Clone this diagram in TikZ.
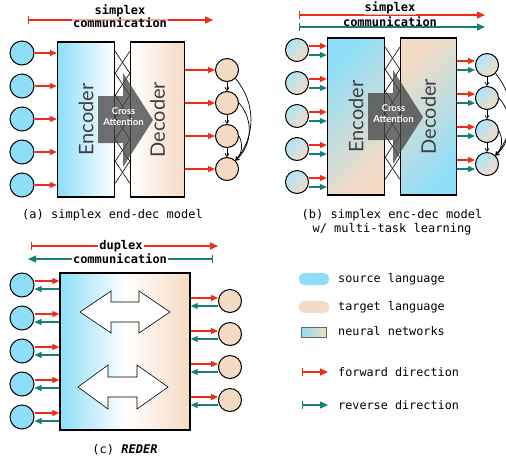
\documentclass[tikz,border=0pt]{standalone}
\usepackage{fontspec}
\setmainfont{DejaVu Sans Mono}
\newfontfamily\netfont{Lato}
\usetikzlibrary{arrows.meta,positioning}
\definecolor{srcblue}{RGB}{142,222,248}
\definecolor{tgtpeach}{RGB}{245,219,196}
\definecolor{fwdred}{RGB}{238,45,25}
\definecolor{revteal}{RGB}{22,128,116}
\tikzset{
  src/.style={circle, draw, line width=1pt, fill=srcblue, minimum size=24pt, inner sep=0pt},
  tgt/.style={circle, draw, line width=1pt, fill=tgtpeach, minimum size=23pt, inner sep=0pt},
  mixed/.style={circle, draw, line width=1pt, top color=srcblue!75!white, bottom color=tgtpeach, shading angle=45, minimum size=23pt, inner sep=0pt},
  net/.style={draw, line width=1.4pt, inner sep=0pt, minimum height=155pt},
  netlabel/.style={font=\netfont\fontsize{20}{20}\selectfont, text=black!75, rotate=90},
  attn/.style={fill=black!72, fill opacity=0.78},
  attnlabel/.style={font=\netfont\bfseries\fontsize{9.5}{11}\selectfont, text=white, align=center},
  xline/.style={line width=0.6pt},
  dep/.style={-{Straight Barb[length=3pt,width=4pt]}, line width=0.7pt},
  fwd/.style={-{Triangle[length=7pt,width=6pt]}, fwdred, line width=1.2pt},
  rev/.style={-{Triangle[length=7pt,width=6pt]}, revteal, line width=1.2pt},
  fwdbar/.style={{Bar[width=8pt]}-{Triangle[length=8pt,width=7pt]}, fwdred, line width=1.2pt},
  revbar/.style={{Bar[width=8pt]}-{Triangle[length=8pt,width=7pt]}, revteal, line width=1.2pt},
  title/.style={font=\bfseries\fontsize{12}{12}\selectfont, inner sep=1pt},
  caption/.style={font=\fontsize{12}{14}\selectfont, align=center},
  legend/.style={font=\fontsize{11.8}{13}\selectfont, anchor=west, inner sep=0pt},
  arrowbox/.style={draw, fill=white, line width=0.6pt}
}

\begin{document}
\begin{tikzpicture}[x=1pt,y=-1pt]
\useasboundingbox (0,0) rectangle (506,459);

% (a) simplex enc-dec
\coordinate (AL) at (28,20);
\coordinate (AR) at (213,20);
\draw[fwdbar] (AL) -- (AR);
\node[title] (AT1) at (120,11) {simplex};
\node[title, fill=white, fill opacity=0.6, text opacity=1] (AT2) at (120,23) {communication};

\node[src] (S1) at (22,53) {};
\node[src, below=8pt of S1] (S2) {};
\node[src, below=8pt of S2] (S3) {};
\node[src, below=8pt of S3] (S4) {};
\node[src, below=8pt of S4] (S5) {};

\node[net, minimum width=57pt, left color=srcblue, right color=white] (E) at (86,119.5) {};
\node[netlabel] (EL) at (E) {Encoder};
\node[net, minimum width=54pt, left color=white, right color=tgtpeach] (D) at (157.5,119.5) {};
\node[netlabel] (DL) at (D) {Decoder};

\foreach \i in {0,...,5} {
  \draw[xline] ([yshift=-(10+22*\i)]E.north east) -- ([yshift=-(32+22*\i)]D.north west);
  \draw[xline] ([yshift=-(32+22*\i)]E.north east) -- ([yshift=-(10+22*\i)]D.north west);
}
\fill[attn] (98,96) -- (123,96) -- (123,73) -- (153,120) -- (123,167) -- (123,143) -- (98,143) -- cycle;
\node[attnlabel] (CA) at (123.5,116.5) {Cross\\Attention};

\node[tgt] (T1) at (227,70) {};
\node[tgt, below=9pt of T1] (T2) {};
\node[tgt, below=9pt of T2] (T3) {};
\node[tgt, below=9pt of T3] (T4) {};

\foreach \i in {1,...,5} \draw[fwd] (S\i) -- (S\i -| E.west);
\foreach \i in {1,...,4} \draw[fwd] (T\i -| D.east) -- (T\i);

\draw[dep] (T1) -- (T2);
\draw[dep] (T2) -- (T3);
\draw[dep] (T3) -- (T4);
\draw[dep] (T1.south east) to[bend left=40] (T4.north east);
\draw[dep] (T2.east) to[bend left=45] (T4.north east);
\draw[dep] (T3.east) to[bend left=35] (T4.north east);

\node[caption] (AC) at (112.5,215) {(a) simplex end-dec model};

% (b) multi-task
\coordinate (BL1) at (299,15);
\coordinate (BR1) at (485,15);
\coordinate (BL2) at (299,27);
\coordinate (BR2) at (485,27);
\draw[fwdbar] (BL1) -- (BR1);
\draw[revbar] (BL2) -- (BR2);
\node[title, fill=white, fill opacity=0.6, text opacity=1] (BT1) at (390,7.5) {simplex};
\node[title] (BT2) at (390,21.5) {communication};

\node[mixed] (U1) at (297,50) {};
\node[mixed, below=9pt of U1] (U2) {};
\node[mixed, below=9pt of U2] (U3) {};
\node[mixed, below=9pt of U3] (U4) {};
\node[mixed, below=9pt of U4] (U5) {};

\node[net, minimum width=57pt, minimum height=157pt, top color=srcblue, bottom color=tgtpeach, shading angle=45] (F) at (356,116.5) {};
\node[netlabel] (FL) at (F) {Encoder};
\node[net, minimum width=56pt, minimum height=157pt, top color=tgtpeach, bottom color=srcblue, shading angle=45] (G) at (428.5,116.5) {};
\node[netlabel] (GL) at (G) {Decoder};

\foreach \i in {0,...,5} {
  \draw[xline] ([yshift=-(10+22*\i)]F.north east) -- ([yshift=-(32+22*\i)]G.north west);
  \draw[xline] ([yshift=-(32+22*\i)]F.north east) -- ([yshift=-(10+22*\i)]G.north west);
}
\fill[attn] (368,93) -- (393,93) -- (393,70) -- (423,117) -- (393,164) -- (393,140) -- (368,140) -- cycle;
\node[attnlabel] (CB) at (393.5,113.5) {Cross\\Attention};

\node[mixed] (V1) at (487,65) {};
\node[mixed, below=9pt of V1] (V2) {};
\node[mixed, below=9pt of V2] (V3) {};
\node[mixed, below=9pt of V3] (V4) {};

\foreach \i in {1,...,5} {
  \draw[fwd] ([yshift=4pt]U\i.east) -- ([yshift=4pt]U\i.east -| F.west);
  \draw[rev] ([yshift=-5pt]U\i.east) -- ([yshift=-5pt]U\i.east -| F.west);
}
\foreach \i in {1,...,4} {
  \draw[fwd] ([yshift=4pt]V\i.west -| G.east) -- ([yshift=4pt]V\i.west);
  \draw[rev] ([yshift=-5pt]V\i.west -| G.east) -- ([yshift=-5pt]V\i.west);
}

\draw[dep] (V1) -- (V2);
\draw[dep] (V2) -- (V3);
\draw[dep] (V3) -- (V4);
\draw[dep] (V1.south east) to[bend left=40] (V4.north east);
\draw[dep] (V2.east) to[bend left=45] (V4.north east);
\draw[dep] (V3.east) to[bend left=35] (V4.north east);

\node[caption] (BC) at (392,222) {(b) simplex enc-dec model\\w/ multi-task learning};

% (c) REDER
\coordinate (CL1) at (31,246);
\coordinate (CR1) at (218,246);
\coordinate (CL2) at (28,259);
\coordinate (CR2) at (213,259);
\draw[fwdbar] (CL1) -- (CR1);
\draw[revbar] (CR2) -- (CL2);
\node[title, fill=white] (CT1) at (121,246) {duplex};
\node[title, fill=white] (CT2) at (120,259) {communication};

\node[net, minimum width=130pt, minimum height=157pt, left color=srcblue, right color=tgtpeach, middle color=white] (R) at (125,351.5) {};
\draw[arrowbox] (80,312) -- (111,291) -- (111,302) -- (139,302) -- (139,291) -- (170,312) -- (139,333) -- (139,322) -- (111,322) -- (111,333) -- cycle;
\draw[arrowbox] (78,387) -- (108,365) -- (108,377) -- (137,377) -- (137,365) -- (168,387) -- (137,409) -- (137,397) -- (108,397) -- (108,409) -- cycle;

\node[src] (X1) at (22,285) {};
\node[src, below=8pt of X1] (X2) {};
\node[src, below=8pt of X2] (X3) {};
\node[src, below=8pt of X3] (X4) {};
\node[src, below=8pt of X4] (X5) {};

\node[tgt] (Y1) at (230,301) {};
\node[tgt, below=9pt of Y1] (Y2) {};
\node[tgt, below=9pt of Y2] (Y3) {};
\node[tgt, below=9pt of Y3] (Y4) {};

\foreach \i in {1,...,5} {
  \draw[fwd] ([yshift=4pt]X\i.east) -- ([yshift=4pt]X\i.east -| R.west);
  \draw[rev] ([yshift=-4pt]X\i.east -| R.west) -- ([yshift=-4pt]X\i.east);
}
\foreach \i in {1,...,4} {
  \draw[fwd] ([yshift=3pt]Y\i.west -| R.east) -- ([yshift=3pt]Y\i.west);
  \draw[rev] ([yshift=-5pt]Y\i.west) -- ([yshift=-5pt]Y\i.west -| R.east);
}

\node[caption] (CC) at (125,450) {(c) \textbf{\textit{REDER}}};

% legend
\node[fill=srcblue, rounded corners=5pt, minimum width=30pt, minimum height=12pt, inner sep=0pt] (LS) at (314,279) {};
\node[legend] (LST) at (338,279) {source language};
\node[fill=tgtpeach, rounded corners=5pt, minimum width=30pt, minimum height=12pt, inner sep=0pt] (LT) at (314,307) {};
\node[legend] (LTT) at (338,307) {target language};
\node[draw=black!60, line width=0.8pt, left color=srcblue, right color=tgtpeach, minimum width=25pt, minimum height=10pt, inner sep=0pt] (LN) at (314,332) {};
\node[legend] (LNT) at (338,331) {neural networks};
\coordinate (LF1) at (302,372);
\coordinate (LF2) at (328,372);
\draw[fwdbar] (LF1) -- (LF2);
\node[legend] (LFT) at (338,372) {forward direction};
\coordinate (LR1) at (302,405);
\coordinate (LR2) at (328,405);
\draw[revbar] (LR1) -- (LR2);
\node[legend] (LRT) at (338,405) {reverse direction};

\end{tikzpicture}
\end{document}
